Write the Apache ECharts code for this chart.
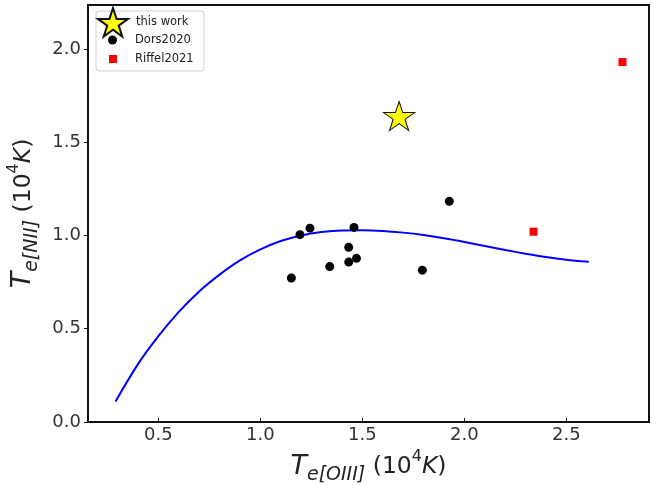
<!DOCTYPE html>
<html><head><meta charset="utf-8">
<script src="https://cdn.jsdelivr.net/npm/echarts@6/dist/echarts.min.js"></script>
<style>html,body{margin:0;padding:0;background:#fff}#c{width:671px;height:485px}</style>
</head><body><div id="c"></div>
<script>
// ---- data ----
const thisWorkX = [1.68];
const thisWorkY = [1.64];
const dorsX = [1.152, 1.194, 1.243, 1.340, 1.433, 1.433, 1.459, 1.471, 1.794, 1.926];
const dorsY = [0.772, 1.004, 1.039, 0.833, 0.936, 0.857, 1.043, 0.877, 0.814, 1.183];
const riffelX = [2.339, 2.775];
const riffelY = [1.020, 1.929];
const curveX = [0.29, 0.4, 0.5, 0.6, 0.7, 0.8, 0.9, 1.0, 1.1, 1.2, 1.3, 1.4, 1.5, 1.6, 1.7, 1.8, 1.9, 2.0, 2.1, 2.2, 2.3, 2.4, 2.5, 2.61];
const curveY = [0.11, 0.31, 0.46, 0.59, 0.70, 0.79, 0.866, 0.925, 0.97, 1.0, 1.018, 1.027, 1.028, 1.024, 1.015, 1.002, 0.985, 0.965, 0.943, 0.922, 0.902, 0.884, 0.870, 0.859];
const xTickStep = 0.5;
const yTickStep = 0.5;

const zip = (a, b) => a.map((v, i) => [v, b[i]]);
const FONT = 'DejaVu Sans';
const STAR = 'path://M50,0L61.23,34.55L97.55,34.55L68.17,55.9L79.39,90.45L50,69.1L20.61,90.45L31.83,55.9L2.45,34.55L38.77,34.55Z';
const fmt = step => v => (Math.abs(v / step - Math.round(v / step)) < 1e-6 ? v.toFixed(1) : '');

const nameRich = {
  t: {fontSize: 27, fontStyle: 'italic', lineHeight: 36, verticalAlign: 'middle', color: '#222', fontFamily: FONT},
  s: {fontSize: 19, fontStyle: 'italic', lineHeight: 19, verticalAlign: 'bottom', color: '#222', fontFamily: FONT},
  n: {fontSize: 23.5, lineHeight: 36, verticalAlign: 'middle', color: '#222', fontFamily: FONT},
  p: {fontSize: 16, lineHeight: 21, verticalAlign: 'top', color: '#222', fontFamily: FONT},
  k: {fontSize: 23.5, fontStyle: 'italic', lineHeight: 36, verticalAlign: 'middle', color: '#222', fontFamily: FONT}
};

const chart = echarts.init(document.getElementById('c'), null, {renderer: 'canvas'});
const legendText = {fontSize: 11.5, color: '#222', fontFamily: FONT};
chart.setOption({
  animation: false,
  backgroundColor: '#fff',
  grid: {left: 88, right: 22, top: 5, bottom: 63, outerBoundsMode: 'none', containLabel: false,
         show: true, borderColor: '#111', borderWidth: 2, backgroundColor: 'transparent'},
  graphic: [{
    type: 'rect', z: 1, shape: {x: 96, y: 11, width: 108, height: 60, r: 3},
    style: {fill: 'rgba(255,255,255,0.8)', stroke: '#d0d0d0', lineWidth: 1}
  }],
  legend: [
    {z: 10, left: 97, top: 7, itemWidth: 30, itemHeight: 29, itemGap: 0, padding: 0,
     data: [{name: 'this work', icon: STAR, itemStyle: {opacity: 1}}], textStyle: Object.assign({padding: [0, 0, 0, 3]}, legendText)},
    {z: 10, left: 108, top: 34, itemWidth: 9, itemHeight: 9, itemGap: 0, padding: 0,
     data: [{name: 'Dors2020', icon: 'circle', itemStyle: {opacity: 1}}], textStyle: Object.assign({padding: [0, 0, 0, 13]}, legendText)},
    {z: 10, left: 109, top: 53, itemWidth: 8, itemHeight: 8, itemGap: 0, padding: 0,
     data: [{name: 'Riffel2021', icon: 'rect', itemStyle: {opacity: 1}}], textStyle: Object.assign({padding: [0, 0, 0, 13]}, legendText)}
  ],
  xAxis: {
    type: 'value', min: 0.155, max: 2.905, splitNumber: 5,
    splitLine: {show: false},
    axisLine: {show: true, onZero: false, lineStyle: {color: '#111', width: 2}},
    axisTick: {show: true, inside: true, length: 4, lineStyle: {color: '#111', width: 1}},
    axisLabel: {formatter: fmt(xTickStep), fontSize: 18, color: '#333', fontFamily: FONT, margin: 4, showMinLabel: false, showMaxLabel: false},
    name: '{t|T}{s|e[OIII]}{n| (10}{p|4}{k|K}{n|)}',
    nameLocation: 'middle', nameGap: 19,
    nameTextStyle: {rich: nameRich}
  },
  yAxis: {
    type: 'value', min: 0, max: 2.235, interval: yTickStep,
    splitLine: {show: false},
    axisLine: {show: true, onZero: false, lineStyle: {color: '#111', width: 2}},
    axisTick: {show: true, inside: false, length: 4, lineStyle: {color: '#111', width: 1}},
    axisLabel: {formatter: fmt(yTickStep), fontSize: 18, color: '#333', fontFamily: FONT, margin: 7, padding: [3, 0, 0, 0], showMaxLabel: false},
    name: '{t|T}{s|e[NII]}{n| (10}{p|4}{k|K}{n|)}',
    nameLocation: 'middle', nameRotate: 90, nameGap: 37,
    nameTextStyle: {rich: nameRich}
  },
  series: [
    {type: 'line', data: zip(curveX, curveY), showSymbol: false, smooth: 0.3, z: 2,
     lineStyle: {color: '#0000ff', width: 2}, silent: true},
    {name: 'Dors2020', type: 'scatter', data: zip(dorsX, dorsY), symbol: 'circle', symbolSize: 9, z: 3,
     itemStyle: {color: '#000', opacity: 1}},
    {name: 'Riffel2021', type: 'scatter', data: zip(riffelX, riffelY), symbol: 'rect', symbolSize: 8, z: 3,
     itemStyle: {color: '#ff0000', opacity: 1}},
    {name: 'this work', type: 'scatter', data: zip(thisWorkX, thisWorkY), symbol: STAR, symbolSize: [31, 29], z: 4,
     itemStyle: {color: '#ffff00', borderColor: '#111', borderWidth: 1, opacity: 1}}
  ]
});
</script></body></html>
